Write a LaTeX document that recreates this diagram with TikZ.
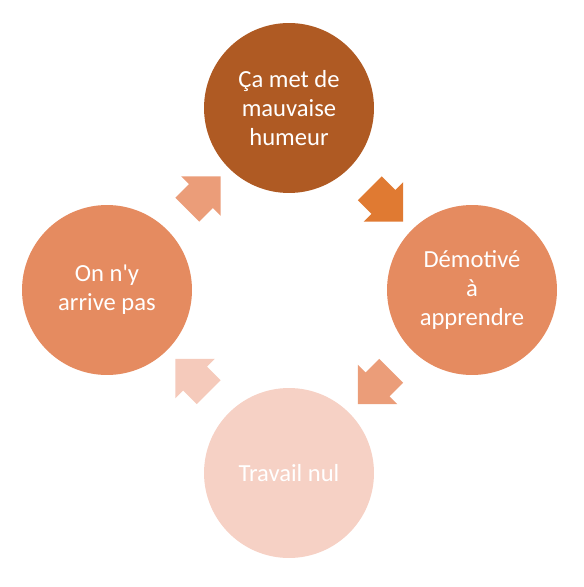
\documentclass[tikz,border=0pt]{standalone}
\usepackage{fontspec}
\newfontfamily\cyclefont{Carlito}
\usetikzlibrary{shapes.arrows, calc}

\definecolor{stageDark}{HTML}{AF5A23}
\definecolor{stageMid}{HTML}{E58B60}
\definecolor{stageLight}{HTML}{F6D1C5}
\definecolor{arrDark}{HTML}{E07A32}
\definecolor{arrMid}{HTML}{EB9D79}
\definecolor{arrLight}{HTML}{F5CABB}

\begin{document}
\begin{tikzpicture}[
    x=0.02cm, y=-0.02cm,
    stage/.style={circle, minimum size=3.4cm, inner sep=0pt, align=center, text=white,
                  font=\cyclefont\fontsize{14}{16.5}\selectfont},
    flow/.style={single arrow, draw=none, minimum height=0.94cm,
                 inner xsep=0pt, inner ysep=0.33cm,
                 single arrow head extend=0.22cm},
]
\useasboundingbox (0,0) rectangle (583,587);

% Stages of the cycle
\node[stage, fill=stageDark] (humeur) at (289,108) {Ça met de\\mauvaise\\humeur};
\node[stage, fill=stageMid] (demotive) at (472,290) {Démotivé\\à\\apprendre};
\node[stage, fill=stageLight] (travail) at (289,473) {Travail nul};
\node[stage, fill=stageMid] (arrive) at (107,290) {On n'y\\arrive pas};

% Block arrows between stages
\node[flow, fill=arrDark, rotate=-45] (a1) at ($(humeur)!0.5!(demotive)$) {};
\node[flow, fill=arrMid, rotate=-135] (a2) at ($(demotive)!0.5!(travail)$) {};
\node[flow, fill=arrLight, rotate=135] (a3) at ($(travail)!0.5!(arrive)$) {};
\node[flow, fill=arrMid, rotate=45] (a4) at ($(arrive)!0.5!(humeur)$) {};

\end{tikzpicture}
\end{document}
